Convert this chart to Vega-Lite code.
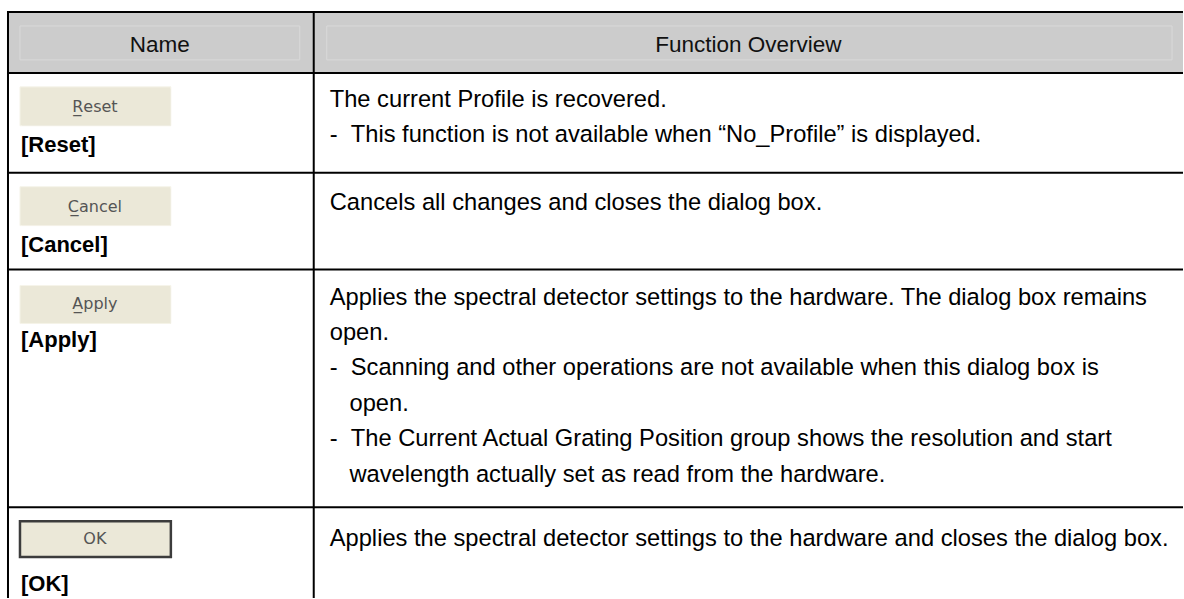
{
  "$schema": "https://vega.github.io/schema/vega-lite/v6.json",
  "width": 1184,
  "height": 599,
  "autosize": {"type": "fit", "contains": "padding"},
  "padding": 0,
  "background": "white",
  "config": {"view": {"stroke": null}, "font": "Liberation Sans"},
  "datasets": {
    "header": [{"x0": 7, "x1": 1184, "y0": 12, "y1": 73}],
    "headerInset": [
      {"x0": 20, "x1": 300, "y0": 26, "y1": 60},
      {"x0": 327, "x1": 1173, "y0": 26, "y1": 60}
    ],
    "headerText": [
      {"x": 160, "y": 45, "text": "Name"},
      {"x": 749, "y": 45, "text": "Function Overview"}
    ],
    "buttons": [
      {"name": "Reset", "caption": "R̲eset", "label": "[Reset]", "x0": 20, "x1": 171, "y0": 87, "y1": 126, "cy": 107, "ly": 145},
      {"name": "Cancel", "caption": "C̲ancel", "label": "[Cancel]", "x0": 20, "x1": 171, "y0": 187, "y1": 226, "cy": 207, "ly": 245},
      {"name": "Apply", "caption": "A̲pply", "label": "[Apply]", "x0": 20, "x1": 171, "y0": 286, "y1": 324, "cy": 305, "ly": 341},
      {"name": "OK", "caption": "OK", "label": "[OK]", "x0": 20, "x1": 171, "y0": 522, "y1": 558, "cy": 540, "ly": 585}
    ],
    "lines": [
      {"y": 100, "text": "The current Profile is recovered."},
      {"y": 135, "text": "-\u00a0\u00a0This function is not available when “No_Profile” is displayed."},
      {"y": 203, "text": "Cancels all changes and closes the dialog box."},
      {"y": 298, "text": "Applies the spectral detector settings to the hardware. The dialog box remains"},
      {"y": 334, "text": "open."},
      {"y": 369, "text": "-\u00a0\u00a0Scanning and other operations are not available when this dialog box is"},
      {"y": 405, "text": "\u200b\u00a0\u00a0\u00a0open."},
      {"y": 440, "text": "-\u00a0\u00a0The Current Actual Grating Position group shows the resolution and start"},
      {"y": 476, "text": "\u200b\u00a0\u00a0\u00a0wavelength actually set as read from the hardware."},
      {"y": 540, "text": "Applies the spectral detector settings to the hardware and closes the dialog box."}
    ],
    "hrules": [
      {"x0": 7, "x1": 1184, "y": 12},
      {"x0": 7, "x1": 1184, "y": 73},
      {"x0": 7, "x1": 1184, "y": 173},
      {"x0": 7, "x1": 1184, "y": 270},
      {"x0": 7, "x1": 1184, "y": 508}
    ],
    "vrules": [
      {"x": 8, "y0": 12, "y1": 599},
      {"x": 314, "y0": 12, "y1": 599}
    ]
  },
  "encoding": {},
  "layer": [
    {
      "data": {"name": "header"},
      "mark": {"type": "rect", "fill": "#cccccc"},
      "encoding": {
        "x": {"field": "x0", "type": "quantitative", "scale": {"domain": [0, 1184], "nice": false, "zero": false}, "axis": null},
        "x2": {"field": "x1"},
        "y": {"field": "y0", "type": "quantitative", "scale": {"domain": [0, 599], "nice": false, "zero": false, "reverse": true}, "axis": null},
        "y2": {"field": "y1"}
      }
    },
    {
      "data": {"name": "headerInset"},
      "mark": {"type": "rect", "fill": null, "stroke": "#d9d9d9", "strokeWidth": 1},
      "encoding": {
        "x": {"field": "x0", "type": "quantitative"},
        "x2": {"field": "x1"},
        "y": {"field": "y0", "type": "quantitative"},
        "y2": {"field": "y1"}
      }
    },
    {
      "data": {"name": "headerText"},
      "mark": {"type": "text", "fontSize": 22.5, "color": "#111111", "baseline": "middle", "align": "center"},
      "encoding": {
        "x": {"field": "x", "type": "quantitative"},
        "y": {"field": "y", "type": "quantitative"},
        "text": {"field": "text"}
      }
    },
    {
      "data": {"name": "buttons"},
      "transform": [{"filter": "datum.name !== 'OK'"}],
      "mark": {"type": "rect", "fill": "#a09d8e", "xOffset": 2, "yOffset": 2},
      "encoding": {
        "x": {"field": "x0", "type": "quantitative"},
        "x2": {"field": "x1"},
        "y": {"field": "y0", "type": "quantitative"},
        "y2": {"field": "y1"}
      }
    },
    {
      "data": {"name": "buttons"},
      "transform": [{"filter": "datum.name !== 'OK'"}],
      "mark": {"type": "rect", "fill": "#ebe8d8", "stroke": "#f6f4ea", "strokeWidth": 1},
      "encoding": {
        "x": {"field": "x0", "type": "quantitative"},
        "x2": {"field": "x1"},
        "y": {"field": "y0", "type": "quantitative"},
        "y2": {"field": "y1"}
      }
    },
    {
      "data": {"name": "buttons"},
      "transform": [{"filter": "datum.name === 'OK'"}],
      "mark": {"type": "rect", "fill": "#ebe8d8", "stroke": "#3c3c3c", "strokeWidth": 2.5},
      "encoding": {
        "x": {"field": "x0", "type": "quantitative"},
        "x2": {"field": "x1"},
        "y": {"field": "y0", "type": "quantitative"},
        "y2": {"field": "y1"}
      }
    },
    {
      "data": {"name": "buttons"},
      "mark": {"type": "text", "fontSize": 16, "color": "#555555", "baseline": "middle", "align": "center", "font": "DejaVu Sans"},
      "encoding": {
        "x": {"datum": 95, "type": "quantitative"},
        "y": {"field": "cy", "type": "quantitative"},
        "text": {"field": "caption"}
      }
    },
    {
      "data": {"name": "buttons"},
      "mark": {"type": "text", "fontSize": 22, "fontWeight": "bold", "color": "#000000", "baseline": "middle", "align": "left"},
      "encoding": {
        "x": {"datum": 21, "type": "quantitative"},
        "y": {"field": "ly", "type": "quantitative"},
        "text": {"field": "label"}
      }
    },
    {
      "data": {"name": "lines"},
      "mark": {"type": "text", "fontSize": 23.7, "color": "#000000", "baseline": "middle", "align": "left"},
      "encoding": {
        "x": {"datum": 330, "type": "quantitative"},
        "y": {"field": "y", "type": "quantitative"},
        "text": {"field": "text"}
      }
    },
    {
      "data": {"name": "hrules"},
      "mark": {"type": "rule", "color": "#000000", "strokeWidth": 2},
      "encoding": {
        "x": {"field": "x0", "type": "quantitative"},
        "x2": {"field": "x1"},
        "y": {"field": "y", "type": "quantitative"}
      }
    },
    {
      "data": {"name": "vrules"},
      "mark": {"type": "rule", "color": "#000000", "strokeWidth": 2},
      "encoding": {
        "x": {"field": "x", "type": "quantitative"},
        "y": {"field": "y0", "type": "quantitative"},
        "y2": {"field": "y1"}
      }
    }
  ]
}
